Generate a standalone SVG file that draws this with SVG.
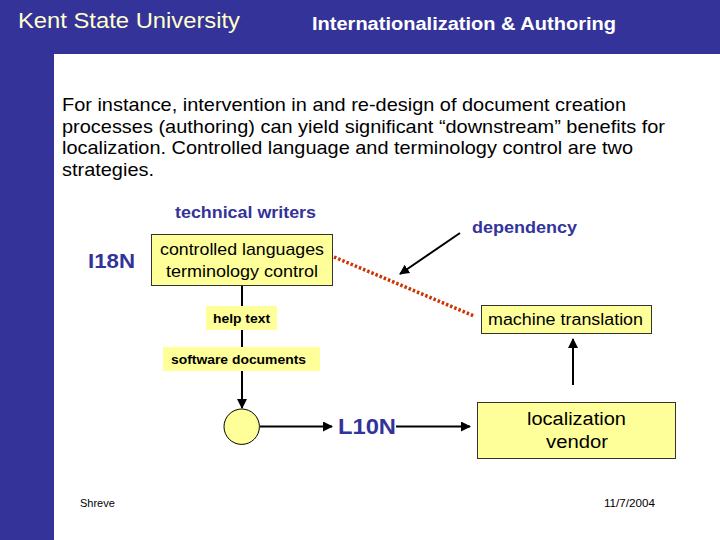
<svg xmlns="http://www.w3.org/2000/svg" width="720" height="540" viewBox="0 0 720 540">
<style>
.sans{font-family:"Liberation Sans",Arial,sans-serif}
.blue{fill:#333399;font-weight:bold}
.box{fill:#FFFF99;stroke:#333333;stroke-width:1}
.lbl{fill:#FFFF99}
.ln{stroke:#000;stroke-width:2;fill:none}
</style>
<defs>
<marker id="ah" viewBox="0 0 10 10" refX="9" refY="5" markerWidth="5" markerHeight="5" orient="auto" markerUnits="strokeWidth">
<path d="M0,0 L10,5 L0,10 z" fill="#000"/>
</marker>
</defs>
<rect x="0" y="0" width="720" height="540" fill="#333399"/>
<rect x="54" y="54" width="666" height="486" fill="#FFFFFF"/>
<text class="sans" x="18" y="28" font-size="22" fill="#FFFFCC" textLength="222" lengthAdjust="spacingAndGlyphs">Kent State University</text>
<text class="sans" x="312" y="30" font-size="18" font-weight="bold" fill="#FFFFFF" textLength="304" lengthAdjust="spacingAndGlyphs">Internationalization &amp; Authoring</text>
<g id="body" class="sans" font-size="19" fill="#000">
<text x="62" y="111" textLength="564" lengthAdjust="spacingAndGlyphs">For instance, intervention in and re-design of document creation</text>
<text x="62" y="133" textLength="603" lengthAdjust="spacingAndGlyphs">processes (authoring) can yield significant “downstream” benefits for</text>
<text x="62" y="154" textLength="571" lengthAdjust="spacingAndGlyphs">localization. Controlled language and terminology control are two</text>
<text x="62" y="176" textLength="92" lengthAdjust="spacingAndGlyphs">strategies.</text>
</g>
<g id="connectors">
<line x1="334" y1="257" x2="474" y2="316" stroke="#CC3300" stroke-width="3.5" stroke-dasharray="2.5,2"/>
<line class="ln" x1="460" y1="233" x2="400" y2="274" marker-end="url(#ah)"/>
<line class="ln" x1="573" y1="385" x2="573" y2="339" marker-end="url(#ah)"/>
<line class="ln" x1="242" y1="285" x2="242" y2="408" marker-end="url(#ah)"/>
<line class="ln" x1="260" y1="426.5" x2="332" y2="426.5" marker-end="url(#ah)"/>
<line class="ln" x1="396" y1="426.5" x2="470" y2="426.5" marker-end="url(#ah)"/>
</g>
<g id="technical-writers"><text class="sans blue" x="175" y="218" font-size="16" textLength="141" lengthAdjust="spacingAndGlyphs">technical writers</text></g>
<g id="i18n"><text class="sans blue" x="88" y="268" font-size="21" textLength="47" lengthAdjust="spacingAndGlyphs">I18N</text></g>
<g id="dependency"><text class="sans blue" x="472" y="233" font-size="16" textLength="105" lengthAdjust="spacingAndGlyphs">dependency</text></g>
<g id="controlled">
<rect class="box" x="151.5" y="234.5" width="181" height="51"/>
<text class="sans" x="160" y="255" font-size="17" textLength="164" lengthAdjust="spacingAndGlyphs">controlled languages</text>
<text class="sans" x="166" y="277" font-size="17" textLength="152" lengthAdjust="spacingAndGlyphs">terminology control</text>
</g>
<g id="machine-translation">
<rect class="box" x="481.5" y="305.5" width="170" height="28"/>
<text class="sans" x="488" y="325" font-size="16" textLength="155" lengthAdjust="spacingAndGlyphs">machine translation</text>
</g>
<g id="help-text">
<rect class="lbl" x="206" y="306" width="71" height="24"/>
<text class="sans" x="213" y="323" font-size="13.5" font-weight="bold" textLength="57" lengthAdjust="spacingAndGlyphs">help text</text>
</g>
<g id="software-documents">
<rect class="lbl" x="163" y="347" width="157" height="24"/>
<text class="sans" x="171" y="364" font-size="13" font-weight="bold" textLength="135" lengthAdjust="spacingAndGlyphs">software documents</text>
</g>
<g id="circle">
<circle cx="241.7" cy="426.7" r="17.7" fill="#FFFF99" stroke="#000" stroke-width="1"/>
</g>
<g id="l10n"><text class="sans blue" x="338" y="434" font-size="22" textLength="58" lengthAdjust="spacingAndGlyphs">L10N</text></g>
<g id="vendor">
<rect class="box" x="477.5" y="402.5" width="198" height="56"/>
<text class="sans" x="527" y="425" font-size="18" textLength="99" lengthAdjust="spacingAndGlyphs">localization</text>
<text class="sans" x="546" y="448" font-size="18" textLength="62" lengthAdjust="spacingAndGlyphs">vendor</text>
</g>
<text class="sans" x="80" y="507" font-size="11">Shreve</text>
<text class="sans" x="604" y="507" font-size="11" textLength="51" lengthAdjust="spacingAndGlyphs">11/7/2004</text>
</svg>
